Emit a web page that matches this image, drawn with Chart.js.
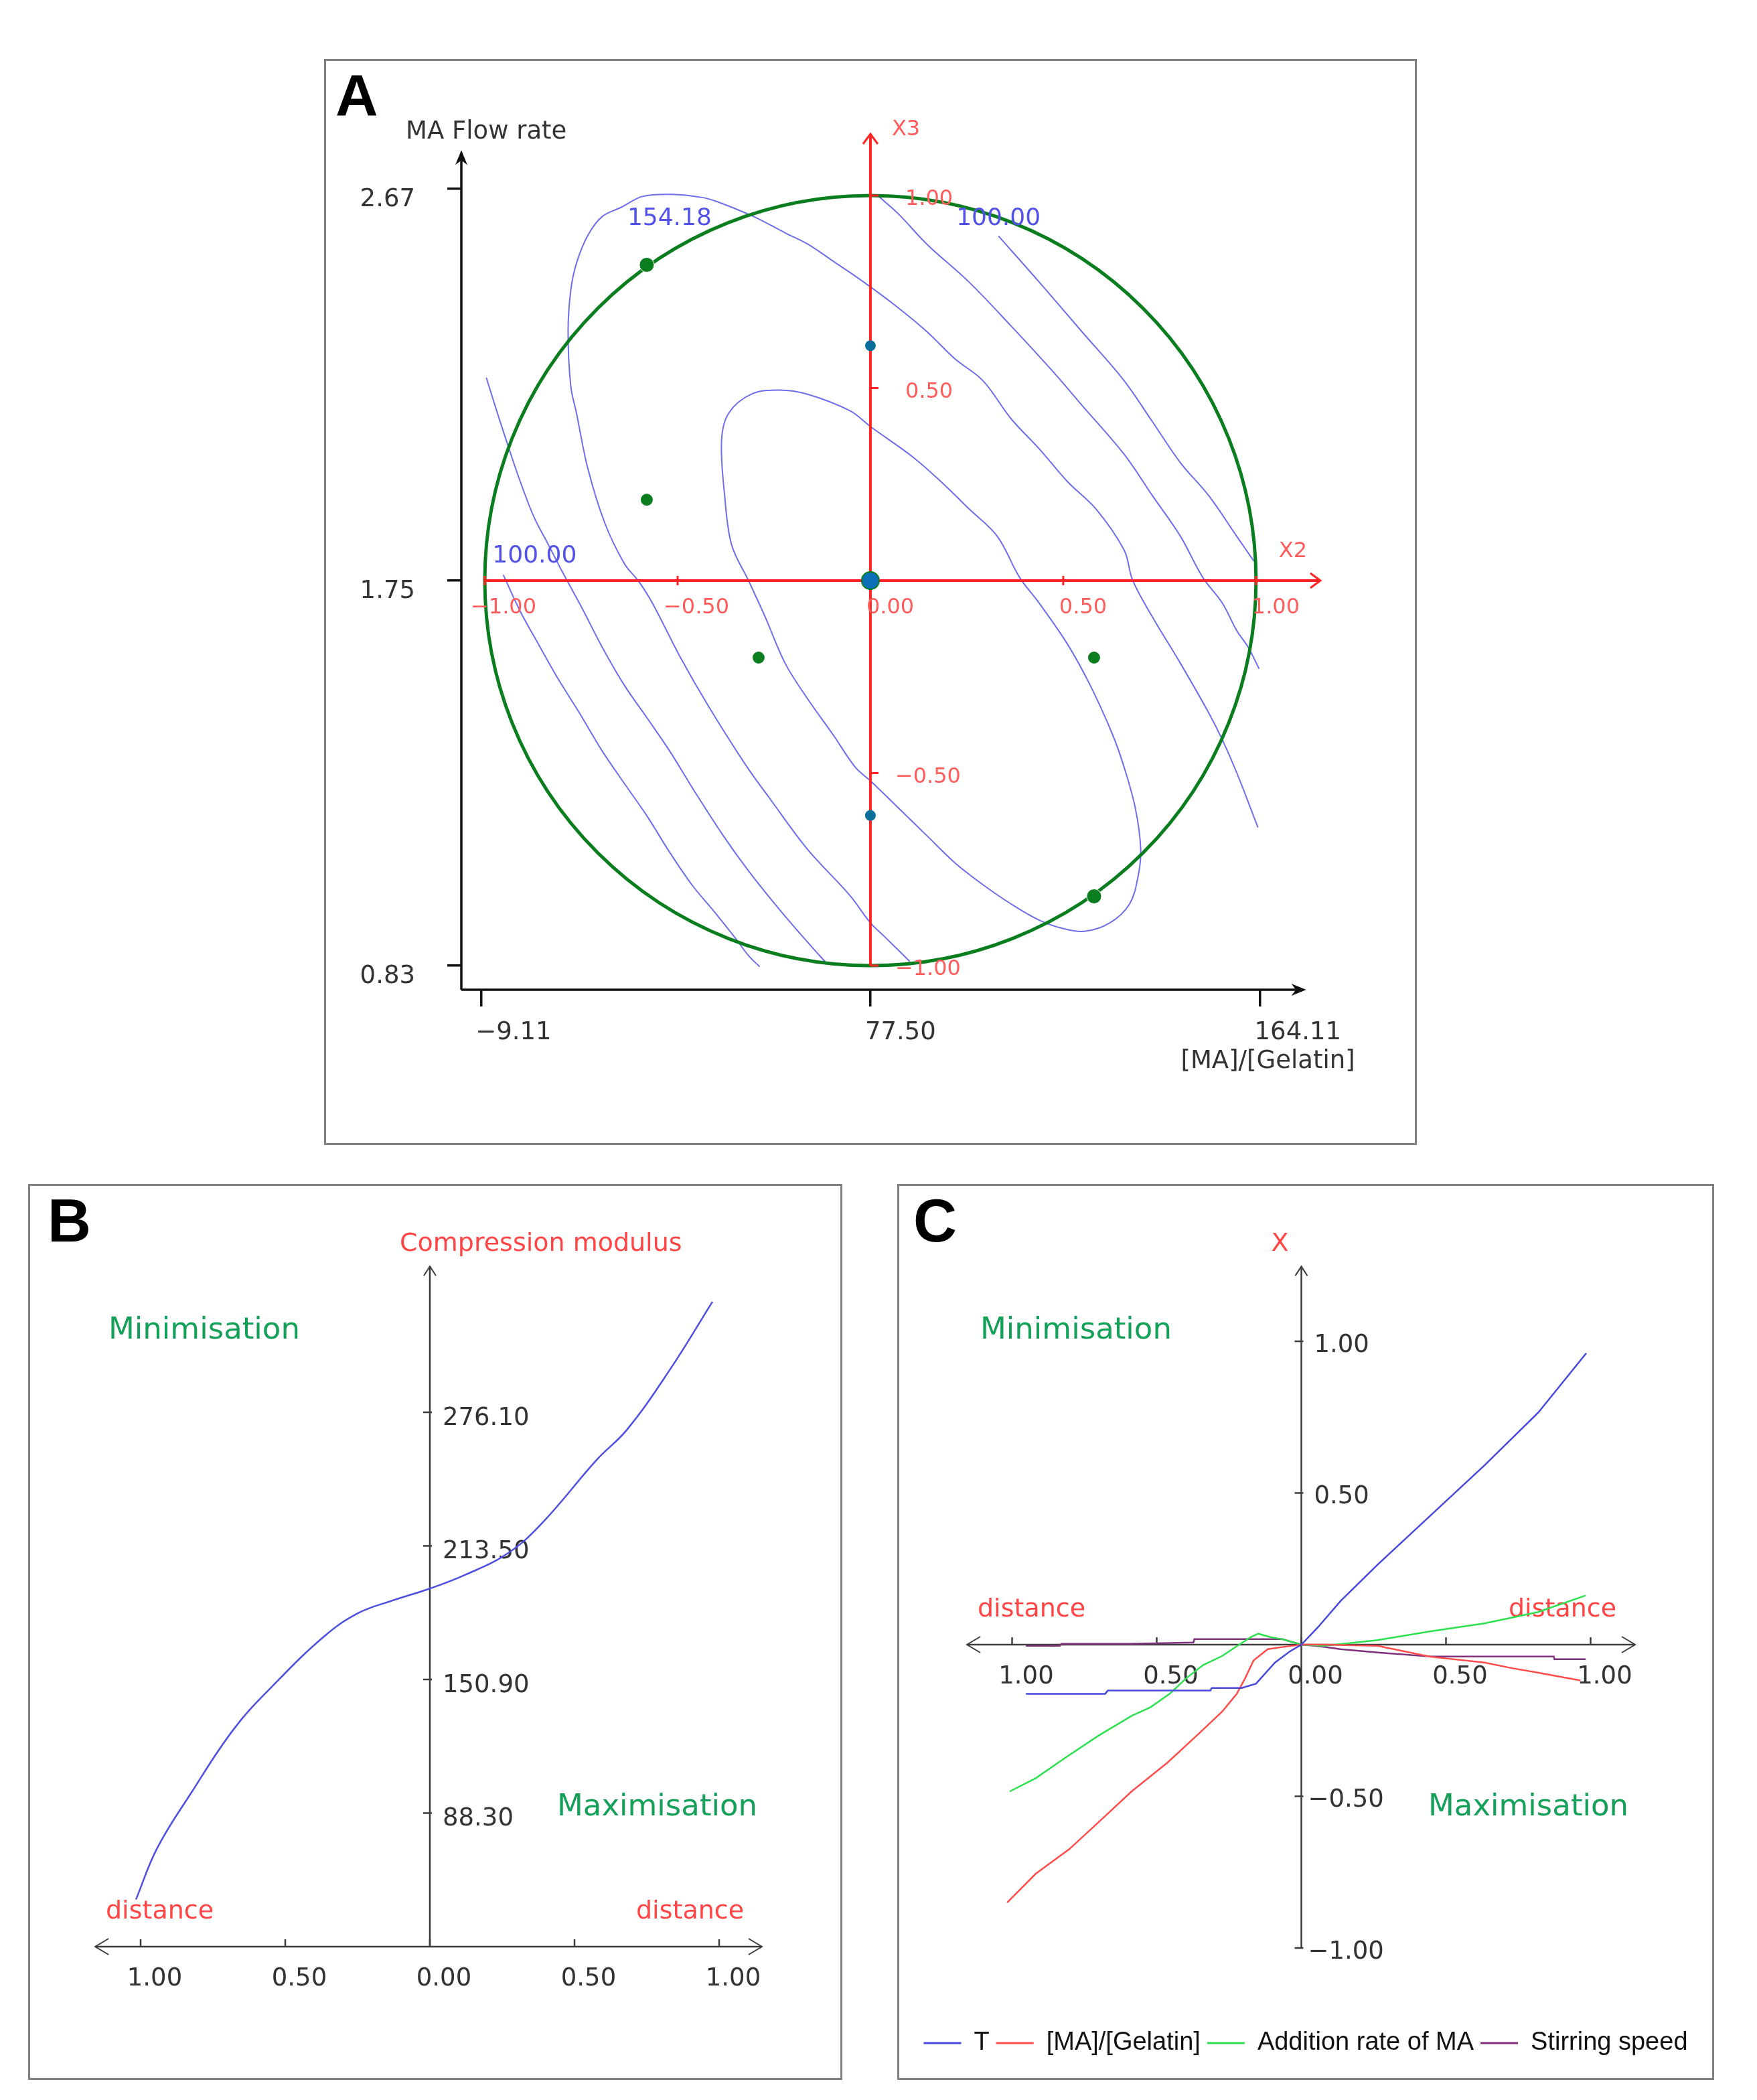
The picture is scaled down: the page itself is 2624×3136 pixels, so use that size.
<!DOCTYPE html>
<html>
<head>
<meta charset="utf-8">
<title>Desirability study</title>
<script src="https://cdn.jsdelivr.net/npm/chart.js@4.4.1/dist/chart.umd.min.js"></script>
<style>
  html, body { margin: 0; padding: 0; background: #fff; }
  body { width: 2624px; height: 3136px; position: relative; overflow: hidden; }
  .panel { position: absolute; border: 3px solid #808080; box-sizing: border-box; background: #fff; }
  .panel canvas { display: block; }
  #boxA { left: 484px; top: 88px; width: 1632px; height: 1622px; }
  #boxB { left: 42px; top: 1768px; width: 1216px; height: 1338px; }
  #boxC { left: 1340px; top: 1768px; width: 1220px; height: 1338px; }
</style>
</head>
<body>
<div class="panel" id="boxA"><canvas id="chartA" width="1626" height="1616"></canvas></div>
<div class="panel" id="boxB"><canvas id="chartB" width="1210" height="1332"></canvas></div>
<div class="panel" id="boxC"><canvas id="chartC" width="1214" height="1332"></canvas></div>
<script>
// ==============================
// Panel A data (coded units X2 / X3)
// ==============================
const aXTickPos = [-1.01, 0, 1.01];
const aXTickLabels = ['−9.11', '77.50', '164.11'];
const aYTickPos = [-1.0, 0, 1.017];
const aYTickLabels = ['0.83', '1.75', '2.67'];
const aCodedTicks = [-1, -0.5, 0, 0.5, 1];
const aCodedLabels = ['−1.00', '−0.50', '0.00', '0.50', '1.00'];

const aCenterPt = [[0, 0]];
const aAxialPts = [[0, 0.61], [0, -0.61]];
const aEdgePts = [[-0.58, 0.82], [0.58, -0.82]];
const aDesignPts = [[-0.58, 0.21], [-0.29, -0.20], [0.58, -0.20]];

const contourInner = [[-0.316, 0.0], [-0.360, 0.093], [-0.378, 0.221], [-0.386, 0.363], [-0.368, 0.434], [-0.309, 0.484],
  [-0.236, 0.495], [-0.163, 0.484], [-0.053, 0.441], [0, 0.40], [0.110, 0.321], [0.183, 0.257], [0.256, 0.186],
  [0.329, 0.115], [0.387, 0.008], [0.438, -0.059], [0.511, -0.165], [0.570, -0.272], [0.628, -0.400], [0.658, -0.485],
  [0.687, -0.591], [0.701, -0.698], [0.694, -0.769], [0.672, -0.840], [0.621, -0.889], [0.555, -0.911], [0.497, -0.903],
  [0.438, -0.882], [0.365, -0.840], [0.292, -0.790], [0.219, -0.733], [0.146, -0.662], [0.073, -0.591], [0, -0.52],
  [-0.039, -0.485], [-0.097, -0.400], [-0.163, -0.307], [-0.221, -0.215], [-0.273, -0.094], [-0.316, 0.0]];
const contour154 = [[0.102, -0.989], [0.037, -0.925], [0, -0.889], [-0.053, -0.818], [-0.163, -0.698], [-0.258, -0.570],
  [-0.324, -0.478], [-0.419, -0.328], [-0.492, -0.201], [-0.565, -0.059], [-0.601, -0.002], [-0.638, 0.044],
  [-0.689, 0.150], [-0.733, 0.292], [-0.762, 0.434], [-0.777, 0.505], [-0.784, 0.647], [-0.777, 0.754], [-0.762, 0.825],
  [-0.733, 0.896], [-0.696, 0.945], [-0.645, 0.970], [-0.590, 0.998], [-0.514, 1.003], [-0.437, 0.995], [-0.397, 0.984],
  [-0.302, 0.945], [-0.221, 0.903], [-0.163, 0.874], [-0.090, 0.825], [-0.017, 0.775], [0.069, 0.711], [0.146, 0.647],
  [0.219, 0.576], [0.292, 0.519], [0.365, 0.420], [0.438, 0.342], [0.511, 0.257], [0.585, 0.186], [0.658, 0.079],
  [0.680, 0.001], [0.731, -0.094], [0.804, -0.215], [0.877, -0.343], [0.913, -0.414], [0.950, -0.499], [1.005, -0.641]];
const contourRight1 = [[0.020, 0.999], [0.073, 0.952], [0.146, 0.874], [0.256, 0.775], [0.365, 0.661], [0.475, 0.541],
  [0.548, 0.456], [0.658, 0.328], [0.731, 0.221], [0.804, 0.115], [0.862, 0.008], [0.913, -0.059], [0.950, -0.130],
  [0.979, -0.172], [1.008, -0.229]];
const contourRight2 = [[0.332, 0.895], [0.438, 0.775], [0.548, 0.647], [0.658, 0.519], [0.731, 0.413], [0.804, 0.306],
  [0.877, 0.221], [0.950, 0.115], [0.994, 0.051]];
const contourLeft1 = [[-0.952, 0.015], [-0.908, -0.080], [-0.857, -0.172], [-0.813, -0.250], [-0.755, -0.343],
  [-0.696, -0.442], [-0.638, -0.527], [-0.579, -0.612], [-0.521, -0.705], [-0.463, -0.790], [-0.404, -0.861],
  [-0.353, -0.925], [-0.316, -0.974], [-0.287, -1.003]];
const contourLeft2 = [[-0.996, 0.527], [-0.967, 0.434], [-0.937, 0.342], [-0.908, 0.257], [-0.872, 0.164],
  [-0.835, 0.093], [-0.799, 0.023], [-0.747, -0.073], [-0.696, -0.172], [-0.638, -0.272], [-0.579, -0.357],
  [-0.521, -0.442], [-0.455, -0.549], [-0.382, -0.662], [-0.316, -0.754], [-0.236, -0.854], [-0.163, -0.939],
  [-0.112, -0.996]];
const contourLabels = [['154.18', -0.521, 0.939], ['100.00', 0.332, 0.939], ['100.00', -0.871, 0.064]];

// ==============================
// Panel B data
// ==============================
const bDistance = [-1.016, -0.943, -0.825, -0.677, -0.544, -0.367, -0.249, -0.131, 0, 0.120, 0.268, 0.386, 0.578, 0.681, 0.829, 0.977];
const bModulus = [47.8, 71.8, 97.8, 127.8, 147.8, 170.9, 181.9, 187.8, 193.5, 199.8, 209.9, 223.9, 254.0, 267.9, 295.9, 327.9];
const bYTicks = [88.30, 150.90, 213.50, 276.10];
const bXTicks = [-1, -0.5, 0, 0.5, 1];
const bXTickLabels = ['1.00', '0.50', '0.00', '0.50', '1.00'];

// ==============================
// Panel C data
// ==============================
const cTX = [-0.952, -0.678, -0.669, -0.314, -0.310, -0.207, -0.157, -0.091, -0.041, 0, 0.058, 0.135, 0.264, 0.449, 0.634, 0.819, 0.985];
const cTY = [-0.162, -0.162, -0.151, -0.151, -0.143, -0.143, -0.129, -0.059, -0.023, 0, 0.058, 0.143, 0.264, 0.428, 0.592, 0.765, 0.961];
const cMAX = [-1.017, -0.918, -0.802, -0.686, -0.587, -0.463, -0.355, -0.273, -0.223, -0.194, -0.165, -0.116, -0.066, 0, 0.079, 0.264, 0.356, 0.448, 0.633, 0.725, 0.817, 0.965];
const cMAY = [-0.850, -0.755, -0.674, -0.572, -0.484, -0.389, -0.294, -0.220, -0.162, -0.110, -0.052, -0.015, -0.008, 0, 0, -0.004, -0.022, -0.040, -0.059, -0.077, -0.092, -0.118];
const cAddX = [-1.008, -0.918, -0.818, -0.703, -0.587, -0.521, -0.455, -0.397, -0.339, -0.273, -0.215, -0.174, -0.149, -0.107, -0.066, 0, 0.079, 0.264, 0.448, 0.633, 0.817, 0.983];
const cAddY = [-0.484, -0.440, -0.374, -0.301, -0.235, -0.206, -0.162, -0.110, -0.067, -0.037, 0, 0.025, 0.036, 0.025, 0.018, 0, -0.004, 0.015, 0.044, 0.070, 0.107, 0.162];
const cStirX = [-0.952, -0.835, -0.830, -0.585, -0.373, -0.370, -0.066, 0, 0.060, 0.135, 0.264, 0.448, 0.873, 0.875, 0.983];
const cStirY = [-0.004, -0.004, 0.003, 0.003, 0.007, 0.018, 0.018, 0, -0.005, -0.015, -0.026, -0.039, -0.039, -0.048, -0.048];
const cYTicks = [-1, -0.5, 0.5, 1];
const cYTickLabels = ['−1.00', '−0.50', '0.50', '1.00'];
const cXTicks = [-1, -0.5, 0, 0.5, 1];
const cXTickLabels = ['1.00', '0.50', '0.00', '0.50', '1.00'];

// ==============================
// helpers
// ==============================
const FONT = '"DejaVu Sans", Verdana, sans-serif';
const ARIAL = '"Liberation Sans", Arial, sans-serif';
const pts = arr => arr.map(([x, y]) => ({x, y}));
const zipXY = (xs, ys) => xs.map((x, i) => ({x, y: ys[i]}));

function line(ctx, x1, y1, x2, y2) {
  ctx.beginPath(); ctx.moveTo(x1, y1); ctx.lineTo(x2, y2); ctx.stroke();
}
function chevron(ctx, x, y, dir, len, half) {
  ctx.beginPath();
  if (dir === 'right') { ctx.moveTo(x - len, y - half); ctx.lineTo(x, y); ctx.lineTo(x - len, y + half); }
  if (dir === 'left') { ctx.moveTo(x + len, y - half); ctx.lineTo(x, y); ctx.lineTo(x + len, y + half); }
  if (dir === 'up') { ctx.moveTo(x - half, y + len); ctx.lineTo(x, y); ctx.lineTo(x + half, y + len); }
  ctx.stroke();
}
function arrowHead(ctx, x, y, dir, len, half) {
  ctx.beginPath();
  if (dir === 'right') { ctx.moveTo(x, y); ctx.lineTo(x - len, y - half); ctx.lineTo(x - len * 0.7, y); ctx.lineTo(x - len, y + half); }
  if (dir === 'up') { ctx.moveTo(x, y); ctx.lineTo(x - half, y + len); ctx.lineTo(x, y + len * 0.7); ctx.lineTo(x + half, y + len); }
  ctx.closePath(); ctx.fill();
}
function text(ctx, s, x, y, size, color, align, weight, family) {
  ctx.font = (weight || 'normal') + ' ' + size + 'px ' + (family || FONT);
  ctx.fillStyle = color;
  ctx.textAlign = align || 'left';
  ctx.textBaseline = 'middle';
  ctx.fillText(s, x, y);
}

// ==============================
// Panel A
// ==============================
const aFirstContour = 4;
const panelAPlugin = {
  id: 'panelA',
  afterDatasetDraw(chart, args) {
    if (args.index !== aFirstContour) return;
    const {ctx} = chart;
    const xs = chart.scales.x, ys = chart.scales.y;
    const cx = xs.getPixelForValue(0), cy = ys.getPixelForValue(0);
    ctx.save();
    // experimental domain
    ctx.strokeStyle = '#0a7d1e'; ctx.lineWidth = 5;
    ctx.beginPath();
    ctx.ellipse(cx, cy, xs.getPixelForValue(1) - cx, cy - ys.getPixelForValue(1), 0, 0, Math.PI * 2);
    ctx.stroke();
    // coded axes X2 / X3
    ctx.strokeStyle = '#ff2424'; ctx.lineWidth = 4;
    const x2End = xs.getPixelForValue(1.167), x3End = ys.getPixelForValue(1.16);
    line(ctx, xs.getPixelForValue(-1), cy, x2End, cy);
    line(ctx, cx, ys.getPixelForValue(-1), cx, x3End);
    ctx.lineWidth = 3;
    chevron(ctx, x2End, cy, 'right', 15, 11);
    chevron(ctx, cx, x3End, 'up', 15, 11);
    aCodedTicks.forEach(v => {
      const px = xs.getPixelForValue(v), py = ys.getPixelForValue(v);
      line(ctx, px, cy - 7, px, cy + 7);
      line(ctx, cx, py, cx + 12, py);
    });
    aCodedTicks.forEach((v, i) => {
      const lab = aCodedLabels[i];
      const neg = lab.startsWith('−');
      text(ctx, lab, xs.getPixelForValue(v) - (neg ? 21 : 6), cy + 41, 32, '#ff5c5c');
      if (v !== 0) text(ctx, lab, cx + (neg ? 37 : 52), ys.getPixelForValue(v) + 6, 32, '#ff5c5c');
    });
    text(ctx, 'X2', xs.getPixelForValue(1) + 34, cy - 43, 32, '#ff5c5c');
    text(ctx, 'X3', cx + 32, x3End - 6, 32, '#ff5c5c');
    ctx.restore();
  },
  afterDraw(chart) {
    const {ctx} = chart;
    const xs = chart.scales.x, ys = chart.scales.y;
    const left = chart.chartArea.left, bottom = chart.chartArea.bottom;
    ctx.save();
    ctx.strokeStyle = '#111'; ctx.fillStyle = '#111'; ctx.lineWidth = 3.5;
    const yTop = ys.getPixelForValue(1.118), xEnd = xs.getPixelForValue(1.13);
    line(ctx, left, bottom, left, yTop + 6);
    line(ctx, left, bottom, xEnd - 6, bottom);
    arrowHead(ctx, left, yTop, 'up', 22, 9);
    arrowHead(ctx, xEnd, bottom, 'right', 22, 9);
    text(ctx, 'MA Flow rate', left - 83, yTop - 27, 37, '#333');
    text(ctx, '[MA]/[Gelatin]', xs.getPixelForValue(1.01) + 142, bottom + 107, 37, '#333', 'right');
    text(ctx, 'A', 14, 57, 88, '#000', 'left', 'bold', ARIAL);
    contourLabels.forEach(([s, x, y]) => {
      text(ctx, s, xs.getPixelForValue(x), ys.getPixelForValue(y), 36, '#5252e8', 'center');
    });
    ctx.restore();
  }
};

const contourStyle = {showLine: true, pointRadius: 0, borderColor: '#6e6eea', borderWidth: 2, fill: false, tension: 0.35};
new Chart(document.getElementById('chartA').getContext('2d'), {
  type: 'scatter',
  data: {
    datasets: [
      {label: 'centre', data: pts(aCenterPt), pointRadius: 13, backgroundColor: '#0b70b8', borderColor: '#0a7d1e', borderWidth: 2},
      {label: 'axial', data: pts(aAxialPts), pointRadius: 8, backgroundColor: '#0b6f9c', borderWidth: 0},
      {label: 'edge', data: pts(aEdgePts), pointRadius: 11, backgroundColor: '#0a7d1e', borderColor: '#ffffff', borderWidth: 1},
      {label: 'design', data: pts(aDesignPts), pointRadius: 9, backgroundColor: '#0a7d1e', borderWidth: 0},
      Object.assign({label: 'inner', data: pts(contourInner)}, contourStyle),
      Object.assign({label: '154.18', data: pts(contour154)}, contourStyle),
      Object.assign({label: 'r1', data: pts(contourRight1)}, contourStyle),
      Object.assign({label: 'r2', data: pts(contourRight2)}, contourStyle),
      Object.assign({label: 'l1', data: pts(contourLeft1)}, contourStyle),
      Object.assign({label: 'l2', data: pts(contourLeft2)}, contourStyle)
    ]
  },
  options: {
    responsive: false, animation: false, events: [],
    layout: {padding: {left: 52, right: 122, top: 86, bottom: 109}},
    plugins: {legend: {display: false}, tooltip: {enabled: false}},
    scales: {
      x: {
        type: 'linear', min: -1.0608, max: 1.2,
        afterBuildTicks: s => { s.ticks = aXTickPos.map(v => ({value: v})); },
        afterFit: s => { s.height = 120; },
        ticks: {autoSkip: false, maxRotation: 0, align: 'start', labelOffset: -8, padding: 17, color: '#333',
          font: {family: FONT, size: 37}, callback: (v, i) => aXTickLabels[i]},
        grid: {drawOnChartArea: false, drawTicks: true, tickLength: 25, color: '#111', lineWidth: 3.5},
        border: {display: false}
      },
      y: {
        type: 'linear', min: -1.0626, max: 1.2,
        afterBuildTicks: s => { s.ticks = aYTickPos.map(v => ({value: v})); },
        afterFit: s => { s.width = 150; },
        ticks: {autoSkip: false, labelOffset: 16, padding: 48, color: '#333',
          font: {family: FONT, size: 37}, callback: (v, i) => aYTickLabels[i]},
        grid: {drawOnChartArea: false, drawTicks: true, tickLength: 21, color: '#111', lineWidth: 3.5},
        border: {display: false}
      }
    }
  },
  plugins: [panelAPlugin]
});

// ==============================
// Panels B and C : desirability traces
// ==============================
function drawCrossAxes(chart, o) {
  const {ctx} = chart;
  const xs = chart.scales.x, ys = chart.scales.y;
  const x0 = xs.getPixelForValue(0), yAx = ys.getPixelForValue(o.base);
  ctx.save();
  ctx.strokeStyle = '#3c3c3c'; ctx.lineWidth = 2.5;
  const xl = xs.getPixelForValue(o.xMin), xr = xs.getPixelForValue(o.xMax);
  const yb = ys.getPixelForValue(o.yMin), yt = ys.getPixelForValue(o.yMax);
  line(ctx, xl, yAx, xr, yAx);
  line(ctx, x0, yb, x0, yt);
  ctx.lineWidth = 2;
  chevron(ctx, xl, yAx, 'left', 20, 12);
  chevron(ctx, xr, yAx, 'right', 20, 12);
  chevron(ctx, x0, yt, 'up', 14, 9);
  ctx.lineWidth = 2.5;
  o.xTicks.forEach((v, i) => {
    const p = xs.getPixelForValue(v);
    line(ctx, p, yAx, p, yAx - 11);
    text(ctx, o.xLabels[i], p + 21, yAx + 48, 37, '#333', 'center');
  });
  o.yTicks.forEach((v, i) => {
    const p = ys.getPixelForValue(v);
    line(ctx, x0 - 10, p, x0 + 3, p);
    const lab = o.yLabels[i];
    text(ctx, lab, x0 + (lab.startsWith('−') ? 10 : 19), p + o.labelDy, 37, '#333');
  });
  text(ctx, o.title, x0 - 45, yt - 33, 38, '#ff4545');
  text(ctx, o.letter, o.letterX, 58, 90, '#000', 'left', 'bold', ARIAL);
  o.notes.forEach(([s, x, y, size, color]) => text(ctx, s, x, y, size, color));
  ctx.restore();
}

const GREEN_TXT = '#14a058';
const RED_TXT = '#ff4545';

new Chart(document.getElementById('chartB').getContext('2d'), {
  type: 'scatter',
  data: {
    datasets: [{
      label: 'Compression modulus',
      data: zipXY(bDistance, bModulus),
      showLine: true, pointRadius: 0, borderColor: '#4f4fe0', borderWidth: 2.5, tension: 0.4
    }]
  },
  options: {
    responsive: false, animation: false, events: [],
    layout: {padding: 0},
    plugins: {legend: {display: false}, tooltip: {enabled: false}},
    scales: {
      x: {type: 'linear', display: false, min: -1.38194, max: 1.41898},
      y: {type: 'linear', display: false, min: -35.80, max: 382.16}
    }
  },
  plugins: [{
    id: 'panelB',
    beforeDatasetsDraw(chart) {
      drawCrossAxes(chart, {
        base: 25.7, xMin: -1.157, xMax: 1.148, yMin: 25.7, yMax: 344.5,
        xTicks: bXTicks, xLabels: bXTickLabels, yTicks: bYTicks, yLabels: bYTicks.map(v => v.toFixed(2)),
        labelDy: 9, title: 'Compression modulus', letter: 'B', letterX: 26,
        notes: [['Minimisation', 117, 216, 45, GREEN_TXT], ['Maximisation', 787, 928, 45, GREEN_TXT],
          ['distance', 113, 1084, 38, RED_TXT], ['distance', 905, 1084, 38, RED_TXT]]
      });
    }
  }]
});

const cLine = {showLine: true, pointRadius: 0, borderWidth: 2.5};
new Chart(document.getElementById('chartC').getContext('2d'), {
  type: 'scatter',
  data: {
    datasets: [
      Object.assign({label: 'T', data: zipXY(cTX, cTY), borderColor: '#4848dc', backgroundColor: '#4848dc'}, cLine),
      Object.assign({label: '[MA]/[Gelatin]', data: zipXY(cMAX, cMAY), borderColor: '#ff4c4c', backgroundColor: '#ff4c4c'}, cLine),
      Object.assign({label: 'Addition rate of MA', data: zipXY(cAddX, cAddY), borderColor: '#2ee050', backgroundColor: '#2ee050'}, cLine),
      Object.assign({label: 'Stirring speed', data: zipXY(cStirX, cStirY), borderColor: '#80307c', backgroundColor: '#80307c'}, cLine)
    ]
  },
  options: {
    responsive: false, animation: false, events: [],
    layout: {padding: {left: 0, right: 0, top: 0, bottom: 23}},
    plugins: {
      tooltip: {enabled: false},
      legend: {
        position: 'bottom',
        labels: {
          boxWidth: 56, boxHeight: 3, padding: 10, color: '#111',
          font: {family: ARIAL, size: 38},
          generateLabels: c => Chart.defaults.plugins.legend.labels.generateLabels(c).map(l => Object.assign(l, {lineWidth: 0}))
        }
      }
    },
    scales: {
      x: {type: 'linear', display: false, min: -1.39005, max: 1.42014},
      y: {type: 'linear', display: false, min: -1.24945, max: 1.51214}
    }
  },
  plugins: [{
    id: 'panelC',
    beforeDatasetsDraw(chart) {
      drawCrossAxes(chart, {
        base: 0, xMin: -1.156, xMax: 1.154, yMin: -1, yMax: 1.247,
        xTicks: cXTicks, xLabels: cXTickLabels, yTicks: cYTicks, yLabels: cYTickLabels,
        labelDy: 6, title: 'X', letter: 'C', letterX: 21,
        notes: [['Minimisation', 121, 216, 45, GREEN_TXT], ['Maximisation', 790, 928, 45, GREEN_TXT],
          ['distance', 117, 633, 38, RED_TXT], ['distance', 910, 633, 38, RED_TXT]]
      });
    }
  }]
});
</script>
</body>
</html>
